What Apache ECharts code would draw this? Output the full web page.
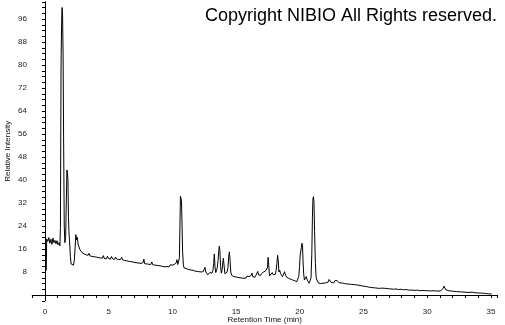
<!DOCTYPE html>
<html><head><meta charset="utf-8">
<script src="https://cdn.jsdelivr.net/npm/echarts@6/dist/echarts.min.js"></script>
<style>html,body{margin:0;padding:0;background:#fff}#c{width:505px;height:325px}</style>
</head><body><div id="c"></div>
<script>
const retentionTime = [
0.10,0.13,0.22,0.30,0.38,0.46,0.54,0.62,0.70,0.78,
0.86,0.94,1.02,1.10,1.17,1.21,1.26,1.31,1.34,1.38,
1.42,1.46,1.51,1.56,1.62,1.67,1.72,1.76,1.80,1.84,
1.88,1.93,1.99,2.05,2.14,2.24,2.31,2.37,2.42,2.48,
2.54,2.60,2.67,2.74,2.82,2.90,2.98,3.06,3.14,3.22,
3.30,3.38,3.46,3.54,3.62,3.70,3.78,3.86,3.94,4.02,
4.10,4.18,4.26,4.34,4.42,4.50,4.58,4.66,4.74,4.82,
4.90,4.98,5.06,5.14,5.22,5.30,5.38,5.46,5.54,5.62,
5.70,5.78,5.86,5.94,6.02,6.10,6.18,6.26,6.34,6.42,
6.50,6.58,6.66,6.74,6.82,6.90,6.98,7.06,7.14,7.22,
7.30,7.38,7.46,7.54,7.62,7.70,7.76,7.82,7.90,7.98,
8.06,8.14,8.22,8.30,8.38,8.46,8.54,8.62,8.70,8.78,
8.86,8.94,9.02,9.10,9.18,9.26,9.34,9.42,9.50,9.58,
9.66,9.74,9.82,9.90,9.98,10.06,10.14,10.22,10.30,10.36,
10.42,10.48,10.55,10.59,10.63,10.67,10.71,10.75,10.80,10.86,
10.92,10.98,11.06,11.14,11.22,11.30,11.38,11.46,11.54,11.62,
11.70,11.78,11.86,11.94,12.02,12.10,12.18,12.26,12.34,12.42,
12.50,12.56,12.62,12.70,12.78,12.86,12.94,13.02,13.10,13.18,
13.24,13.29,13.34,13.40,13.46,13.52,13.58,13.64,13.68,13.72,
13.78,13.84,13.90,13.96,14.00,14.05,14.12,14.20,14.28,14.36,
14.42,14.47,14.52,14.58,14.66,14.74,14.82,14.90,14.98,15.06,
15.14,15.22,15.30,15.38,15.46,15.54,15.62,15.70,15.78,15.86,
15.94,16.02,16.10,16.18,16.25,16.32,16.40,16.48,16.56,16.64,
16.70,16.76,16.84,16.92,17.00,17.08,17.16,17.24,17.32,17.40,
17.46,17.51,17.56,17.62,17.68,17.76,17.84,17.92,18.00,18.08,
18.14,18.20,18.26,18.31,18.36,18.42,18.48,18.56,18.64,18.72,
18.80,18.88,18.96,19.04,19.12,19.20,19.28,19.36,19.44,19.52,
19.60,19.68,19.76,19.84,19.92,19.98,20.03,20.08,20.12,20.17,
20.21,20.25,20.30,20.36,20.42,20.50,20.58,20.66,20.74,20.82,
20.88,20.94,20.99,21.03,21.07,21.11,21.16,21.22,21.28,21.34,
21.40,21.48,21.56,21.64,21.72,21.82,21.92,22.02,22.12,22.22,
22.30,22.37,22.46,22.56,22.66,22.76,22.84,22.92,23.00,23.08,
23.16,23.24,23.32,23.40,23.50,23.60,23.70,23.80,23.92,24.04,
24.16,24.28,24.40,24.50,24.60,24.72,24.84,24.96,25.08,25.25,
25.45,25.65,25.85,26.05,26.25,26.45,26.60,26.75,26.95,27.15,
27.35,27.55,27.75,27.95,28.15,28.35,28.55,28.70,28.85,29.05,
29.25,29.45,29.65,29.85,30.05,30.25,30.45,30.65,30.85,31.05,
31.18,31.26,31.32,31.38,31.46,31.56,31.70,31.85,32.00,32.15,
32.30,32.45,32.60,32.75,32.90,33.05,33.20,33.36,33.52,33.68,
33.84,34.00,34.16,34.32,34.48,34.64,34.80,34.92,35.00,35.06
];
const relativeIntensity = [
8.5,19.5,18.6,20.0,18.0,19.4,17.6,19.8,18.2,19.0,
17.8,18.9,17.5,18.2,17.1,23.5,80,96,100,97,
84,55,24,18.2,20,32,43.5,42.5,40,27,
22,18.5,13.5,10.8,10.2,10.4,12.5,17,21,19.2,
20,17.6,17.2,15.8,16.2,14.8,15.3,14.3,14.8,14.0,
14.6,13.8,14.5,13.6,14.2,13.4,14.0,13.3,13.9,13.2,
13.8,13.0,13.6,12.9,13.5,12.8,13.7,12.7,13.3,12.6,
13.5,12.7,13.2,12.5,13.4,12.6,13.1,12.4,13.2,12.5,
13.0,12.3,12.9,12.4,13.1,12.2,12.8,12.0,12.6,11.9,
12.5,11.7,12.3,11.6,12.2,11.5,12.1,11.3,11.9,11.2,
11.8,11.1,11.7,11.0,11.6,11.3,12.5,10.9,11.5,10.8,
11.4,10.7,11.3,10.6,11.5,10.5,11.1,10.4,11.0,10.3,
10.9,10.2,10.8,10.1,10.6,9.9,10.5,9.8,10.4,9.9,
10.3,9.8,10.5,10.0,10.4,10.1,10.6,10.2,11.2,12.3,
10.6,11.5,13,24,34.4,34.2,32.8,26,15,10.5,
9.4,9.0,9.8,9.1,9.6,8.8,9.4,8.7,9.3,8.6,
9.1,8.3,8.9,8.2,8.7,8.1,8.6,8.0,8.5,8.2,
8.8,9.6,8.0,7.6,7.0,7.4,7.8,7.2,7.6,8.5,
11,14.3,10,7.8,8.5,9.5,12,15.5,17,15.8,
10,7.6,8.8,11.5,12.8,10.5,7.4,7.3,7.9,9.5,
13.5,15,12.5,8,6.8,6.9,6.4,6.8,6.3,6.6,
6.1,6.5,6.0,6.4,5.9,6.3,5.8,6.2,5.9,6.6,
6.0,6.4,6.1,6.8,7.6,6.3,6.6,6.2,6.9,7.2,
8.2,7.0,7.4,6.8,7.5,7.2,8.0,7.6,8.4,8.0,
9.5,13.1,10.5,6.6,7.2,6.9,7.8,7.0,7.6,7.2,
8.5,11,13.8,11.5,8.0,8.7,7.6,7.0,6.4,7.2,
8.1,6.9,6.2,6.5,5.8,6.2,5.5,5.9,5.2,5.6,
5.0,5.4,4.6,5.2,6.5,10,13.9,13.5,16.5,18,
17.2,12,7.5,5.2,5.8,6.4,5.2,4.6,4.1,4.3,
6,14,27,33.5,34.2,32.5,22,11,6.2,5.2,
4.6,4.1,3.8,4.0,3.7,4.1,4.4,4.2,4.8,4.5,
5.4,5.0,4.4,4.6,4.2,5.0,5.6,5.0,4.8,4.3,
4.6,4.2,4.5,4.1,4.3,3.9,4.2,3.8,4.0,3.7,
3.9,3.6,3.8,3.5,3.9,3.3,3.2,3.1,3.0,2.9,
2.7,2.6,2.5,2.4,2.3,2.4,2.7,2.3,2.2,2.1,
2.0,2.1,1.9,2.0,1.8,1.9,1.7,2.0,1.7,1.6,
1.7,1.5,1.6,1.5,1.5,1.4,1.5,1.4,1.4,1.4,
1.6,2.4,3.1,2.6,1.8,1.6,1.5,1.4,1.3,1.4,
1.2,1.3,1.1,1.1,1.0,1.1,0.9,0.9,1.0,0.8,
0.8,0.7,0.7,0.6,0.6,0.5,0.4,0.4,0.35,0.35
];
const xTickLabels = [0, 5, 10, 15, 20, 25, 30, 35];
const yTickLabels = [8, 16, 24, 32, 40, 48, 56, 64, 72, 80, 88, 96];
const titleText = 'Copyright NIBIO All Rights reserved.';

const chart = echarts.init(document.getElementById('c'), null, {renderer: 'canvas'});
const traceData = retentionTime.map((t, i) => [t, relativeIntensity[i]]);
const isIn = (list, v) => list.some(x => Math.abs(x - v) < 1e-6);
const FONT = 'Liberation Sans, Arial, sans-serif';

chart.setOption({
  animation: false,
  backgroundColor: '#fff',
  title: {
    text: titleText, right: 3, top: 2,
    textStyle: {fontFamily: FONT, fontSize: 18, fontWeight: 'normal', color: '#000'}
  },
  grid: {left: 32.26, right: 7.7, top: 1.75, bottom: 24.25, containLabel: false, outerBoundsMode: 'none'},
  xAxis: {
    type: 'value', min: -1, max: 35.5, interval: 1,
    name: 'Retention Time (min)', nameLocation: 'middle', nameGap: 15, nameMoveOverlap: false,
    nameTextStyle: {fontFamily: FONT, fontSize: 8, color: '#111'},
    axisLine: {lineStyle: {color: '#000', width: 1}},
    axisTick: {length: 3, lineStyle: {color: '#000', width: 1}},
    axisLabel: {fontFamily: FONT, fontSize: 8, color: '#222', margin: 7,
      formatter: v => isIn(xTickLabels, v) ? String(Math.round(v)) : ''},
    splitLine: {show: false}
  },
  yAxis: {
    type: 'value', min: -2, max: 102, interval: 2, offset: -2.74,
    name: 'Relative Intensity', nameLocation: 'middle', nameGap: 23, nameRotate: 90, nameMoveOverlap: false,
    nameTextStyle: {fontFamily: FONT, fontSize: 8, color: '#111'},
    axisLine: {show: true, lineStyle: {color: '#000', width: 1}},
    axisTick: {show: true, length: 3, lineStyle: {color: '#000', width: 1}},
    axisLabel: {fontFamily: FONT, fontSize: 8, color: '#222', margin: 8,
      formatter: v => isIn(yTickLabels, v) ? String(Math.round(v)) : ''},
    splitLine: {show: false}
  },
  series: [{
    type: 'line', data: traceData, showSymbol: false, silent: true,
    lineStyle: {color: '#000', width: 1}
  }]
});
</script></body></html>
